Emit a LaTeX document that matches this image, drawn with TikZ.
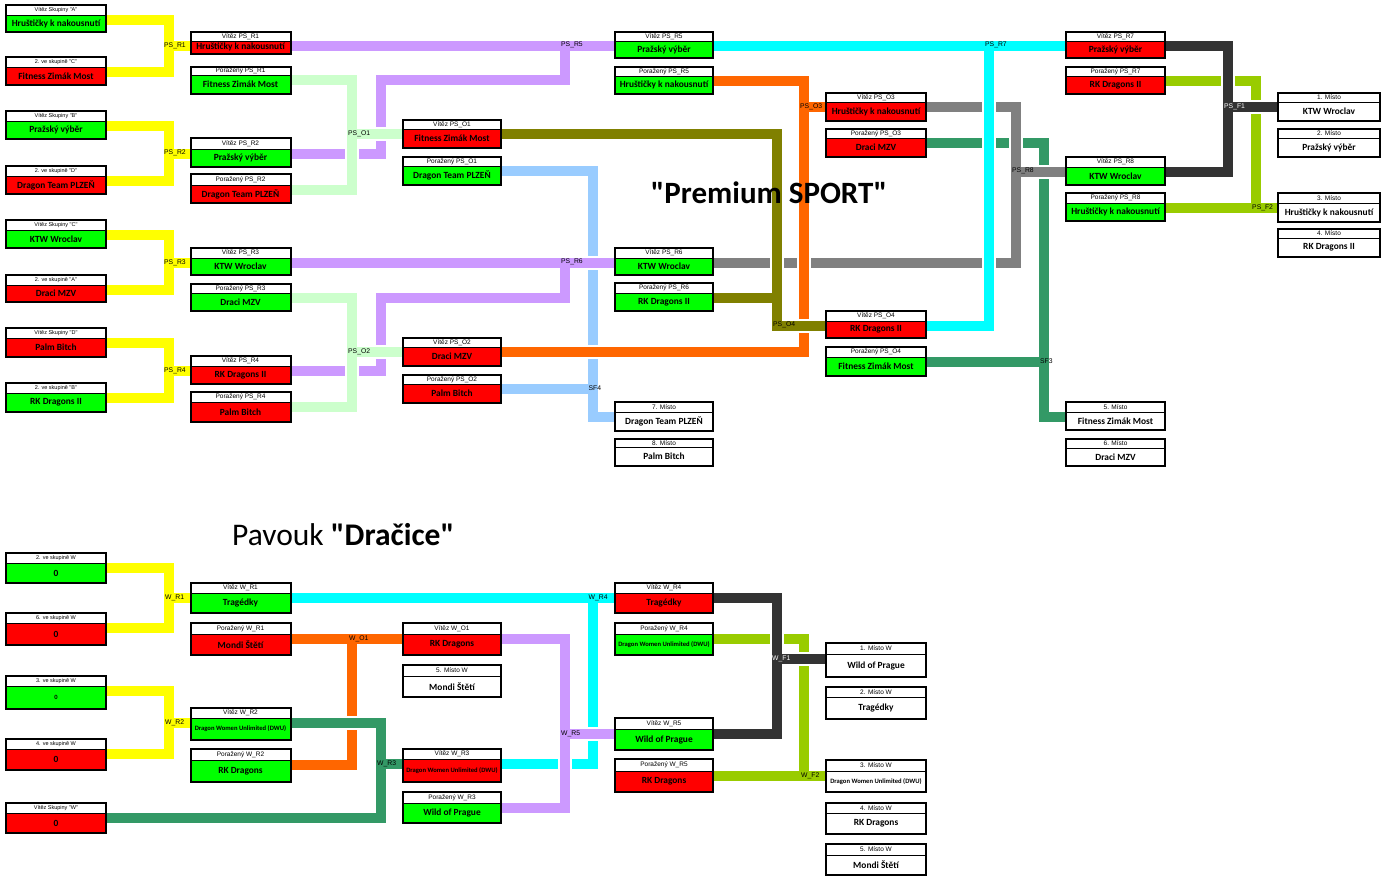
\documentclass[tikz,border=0pt]{standalone}
\usepackage{fontspec}
\setmainfont{Carlito}
\newfontfamily\arialf{Liberation Sans}
\usetikzlibrary{calc}
\pgfdeclarelayer{bg}
\pgfsetlayers{bg,main}
\definecolor{cYel}{HTML}{FFFF00}
\definecolor{cPur}{HTML}{CC99FF}
\definecolor{cLGr}{HTML}{CCFFCC}
\definecolor{cLBl}{HTML}{99CCFF}
\definecolor{cOli}{HTML}{808000}
\definecolor{cOra}{HTML}{FF6600}
\definecolor{cCya}{HTML}{00FFFF}
\definecolor{cGry}{HTML}{808080}
\definecolor{cDGr}{HTML}{339966}
\definecolor{cDGy}{HTML}{333333}
\definecolor{cYGr}{HTML}{99CC00}
\definecolor{cGrn}{HTML}{00FF00}
\definecolor{cRed}{HTML}{FF0000}
\newcommand\qd{\textquotedbl}
\newcommand\hsm[1]{{\fontsize{5.5}{6}\selectfont #1}}
\newcommand\dwu{{\fontsize{6.6}{7}\selectfont Dragon Women Unlimited (DWU)}}
\newcommand\bx[9]{%
  \fill[#7] (#2,#5) rectangle ({#2+#3},#6);
  \fill[white] (#2,#4) rectangle ({#2+#3},#5);
  \draw[line width=0.9pt] (#2,#5) -- ({#2+#3},#5);
  \node[boxframe, minimum width=#3pt, minimum height={(#6-#4)*1pt}, anchor=north west] (#1) at (#2,#4) {};
  \node[hdrtext] (#1-h) at ({#2+#3/2},{(#4+#5)/2}) {#8};
  \node[bodytext] (#1-b) at ({#2+#3/2},{(#5+#6)/2}) {#9};
  \coordinate (#1-l) at (#2,{#5+4.5});
  \coordinate (#1-r) at ({#2+#3},{#5+4.5});
}
\tikzset{
  boxframe/.style={draw=black, line width=2pt, inner sep=0pt, outer sep=0pt},
  hdrtext/.style={font=\arialf\fontsize{6.5}{7}\selectfont, inner sep=0pt},
  bodytext/.style={font=\bfseries\fontsize{9.4}{10}\selectfont, inner sep=0pt},
  net/.style={draw=#1, line width=10pt, line cap=butt, line join=miter,
    preaction={draw=white, line width=14pt}},
  lbl/.style={font=\arialf\fontsize{6.8}{7}\selectfont, inner sep=0pt, anchor=west},
}
\begin{document}
\begin{tikzpicture}[x=1pt,y=-1pt]
\useasboundingbox (0,0) rectangle (1395,881);
% ---------- boxes: top ----------
\bx{A1}{6}{100}{5}{15}{32}{cGrn}{\hsm{Vítěz Skupiny \qd A\qd}}{Hruštičky k nakousnutí}
\bx{A2}{6}{100}{57}{67}{85}{cRed}{\hsm{2. ve skupině \qd C\qd}}{Fitness Zimák Most}
\bx{A3}{6}{100}{111}{121}{139}{cGrn}{\hsm{Vítěz Skupiny \qd B\qd}}{Pražský výběr}
\bx{A4}{6}{100}{166}{176}{194}{cRed}{\hsm{2. ve skupině \qd D\qd}}{Dragon Team PLZEŇ}
\bx{A5}{6}{100}{220}{230}{248}{cGrn}{\hsm{Vítěz Skupiny \qd C\qd}}{KTW Wroclav}
\bx{A6}{6}{100}{275}{285}{302}{cRed}{\hsm{2. ve skupině \qd A\qd}}{Draci MZV}
\bx{A7}{6}{100}{328}{338}{357}{cRed}{\hsm{Vítěz Skupiny \qd D\qd}}{Palm Bitch}
\bx{A8}{6}{100}{383}{393}{412}{cGrn}{\hsm{2. ve skupině \qd B\qd}}{RK Dragons II}
\bx{B1}{190.5}{100}{32}{41}{53.5}{cRed}{Vítěz PS\_R1}{Hruštičky k nakousnutí}
\bx{B2}{190.5}{100}{67}{75}{93.5}{cGrn}{Poražený PS\_R1}{Fitness Zimák Most}
\bx{B3}{190.5}{100}{138}{149}{167}{cGrn}{Vítěz PS\_R2}{Pražský výběr}
\bx{B4}{190.5}{100}{174}{185}{203}{cRed}{Poražený PS\_R2}{Dragon Team PLZEŇ}
\bx{B5}{190.5}{100}{248}{258}{275}{cGrn}{Vítěz PS\_R3}{KTW Wroclav}
\bx{B6}{190.5}{100}{284}{293}{311}{cGrn}{Poražený PS\_R3}{Draci MZV}
\bx{B7}{190.5}{100}{356}{366}{384}{cRed}{Vítěz PS\_R4}{RK Dragons II}
\bx{B8}{190.5}{100}{392}{402}{422}{cRed}{Poražený PS\_R4}{Palm Bitch}
\bx{C1}{403}{98}{120}{129}{148}{cRed}{Vítěz PS\_O1}{Fitness Zimák Most}
\bx{C2}{403}{98}{157}{166}{185}{cGrn}{Poražený PS\_O1}{Dragon Team PLZEŇ}
\bx{C3}{403}{98}{338}{347}{366}{cRed}{Vítěz PS\_O2}{Draci MZV}
\bx{C4}{403}{98}{375}{384}{403}{cRed}{Poražený PS\_O2}{Palm Bitch}
\bx{D1}{615}{98}{32}{41}{58}{cGrn}{Vítěz PS\_R5}{Pražský výběr}
\bx{D2}{615}{98}{67}{76}{94}{cGrn}{Poražený PS\_R5}{Hruštičky k nakousnutí}
\bx{D3}{615}{98}{248}{258}{275}{cGrn}{Vítěz PS\_R6}{KTW Wroclav}
\bx{D4}{615}{98}{283}{293}{311}{cGrn}{Poražený PS\_R6}{RK Dragons II}
\bx{D5}{615}{98}{402}{412}{431}{white}{7. Místo}{Dragon Team PLZEŇ}
\bx{D6}{615}{98}{439}{447}{466}{white}{8. Místo}{Palm Bitch}
\bx{E1}{826}{100}{93}{102}{121}{cRed}{Vítěz PS\_O3}{Hruštičky k nakousnutí}
\bx{E2}{826}{100}{129}{138}{157}{cRed}{Poražený PS\_O3}{Draci MZV}
\bx{E3}{826}{100}{311}{321}{338}{cRed}{Vítěz PS\_O4}{RK Dragons II}
\bx{E4}{826}{100}{347}{357}{376}{cGrn}{Poražený PS\_O4}{Fitness Zimák Most}
\bx{F1}{1066}{99}{32}{41}{58}{cRed}{Vítěz PS\_R7}{Pražský výběr}
\bx{F2}{1066}{99}{67}{76}{94}{cRed}{Poražený PS\_R7}{RK Dragons II}
\bx{F3}{1066}{99}{157}{167}{185}{cGrn}{Vítěz PS\_R8}{KTW Wroclav}
\bx{F4}{1066}{99}{193}{203}{221}{cGrn}{Poražený PS\_R8}{Hruštičky k nakousnutí}
\bx{F5}{1066}{99}{402}{412}{430}{white}{5. Místo}{Fitness Zimák Most}
\bx{F6}{1066}{99}{439}{448}{466}{white}{6. Místo}{Draci MZV}
\bx{G1}{1278}{102}{93}{102}{121}{white}{1. Místo}{KTW Wroclav}
\bx{G2}{1278}{102}{129}{138}{157}{white}{2. Místo}{Pražský výběr}
\bx{G3}{1278}{102}{193}{203}{222}{white}{3. Místo}{Hruštičky k nakousnutí}
\bx{G4}{1278}{102}{229}{238}{257}{white}{4. Místo}{RK Dragons II}
% ---------- boxes: bottom ----------
\bx{H1}{6}{100}{553}{563}{583}{cGrn}{\hsm{2. ve skupině W}}{0}
\bx{H2}{6}{100}{613}{623}{645}{cRed}{\hsm{6. ve skupině W}}{0}
\bx{H3}{6}{100}{676}{686}{709}{cGrn}{\hsm{3. ve skupině W}}{{\fontsize{6.5}{7}\selectfont 0}}
\bx{H4}{6}{100}{739}{749}{770}{cRed}{\hsm{4. ve skupině W}}{0}
\bx{H5}{6}{100}{803}{813}{833}{cRed}{\hsm{Vítěz Skupiny \qd W\qd}}{0}
\bx{I1}{190.5}{100}{583}{593}{613}{cGrn}{Vítěz W\_R1}{Tragédky}
\bx{I2}{190.5}{100}{623}{634}{655}{cRed}{Poražený W\_R1}{Mondi Štětí}
\bx{I3}{190.5}{100}{708}{718}{740}{cGrn}{Vítěz W\_R2}{\dwu}
\bx{I4}{190.5}{100}{749}{760}{782}{cGrn}{Poražený W\_R2}{RK Dragons}
\bx{J1}{403}{98}{623}{634}{655}{cRed}{Vítěz W\_O1}{RK Dragons}
\bx{J2}{403}{98}{665}{676}{697}{white}{5. Místo W}{Mondi Štětí}
\bx{J3}{403}{98}{749}{759}{782}{cRed}{Vítěz W\_R3}{\dwu}
\bx{J4}{403}{98}{792}{803}{823}{cGrn}{Poražený W\_R3}{Wild of Prague}
\bx{K1}{615}{98}{583}{593}{613}{cRed}{Vítěz W\_R4}{Tragédky}
\bx{K2}{615}{98}{623}{634}{655}{cGrn}{Poražený W\_R4}{\dwu}
\bx{K3}{615}{98}{718}{729}{750}{cGrn}{Vítěz W\_R5}{Wild of Prague}
\bx{K4}{615}{98}{759}{771}{792}{cRed}{Poražený W\_R5}{RK Dragons}
\bx{L1}{826}{100}{643}{654}{677}{white}{1. Místo W}{Wild of Prague}
\bx{L2}{826}{100}{687}{697}{719}{white}{2. Místo W}{Tragédky}
\bx{L3}{826}{100}{760}{771}{792}{white}{3. Místo W}{\dwu}
\bx{L4}{826}{100}{803}{813}{834}{white}{4. Místo W}{RK Dragons}
\bx{L5}{826}{100}{844}{855}{875}{white}{5. Místo W}{Mondi Štětí}
% ---------- connectors ----------
\begin{pgfonlayer}{bg}
\fill[white] (0,0) rectangle (1395,881);
\draw[net=cYel] (A1-r) -| (168.5,0 |- B1-l) |- (A2-r) (168.5,0 |- B1-l) -- (B1-l);
\draw[net=cYel] (A3-r) -| (168.5,0 |- B3-l) |- (A4-r) (168.5,0 |- B3-l) -- (B3-l);
\draw[net=cYel] (A5-r) -| (168.5,0 |- B5-l) |- (A6-r) (168.5,0 |- B5-l) -- (B5-l);
\draw[net=cYel] (A7-r) -| (168.5,0 |- B7-l) |- (A8-r) (168.5,0 |- B7-l) -- (B7-l);
\draw[net=cLBl] (C2-r) -| (593,0 |- D5-l) -- (D5-l) (C4-r) -- (593,0 |- C4-r);
\draw[net=cPur] (B1-r) -- (D1-l) (B3-r) -| (381,79.5) -| (565,0 |- D1-l)
  (B5-r) -- (D3-l) (B7-r) -| (381,297.5) -| (565,0 |- D3-l);
\draw[net=cLGr] (B2-r) -| (352,0 |- C1-l) |- (B4-r) (352,0 |- C1-l) -- (C1-l)
  (B6-r) -| (352,0 |- C3-l) |- (B8-r) (352,0 |- C3-l) -- (C3-l);
\draw[net=cDGr] (E2-r) -| (1043.5,0 |- F5-l) -- (F5-l) (E4-r) -- (1043.5,0 |- E4-r);
\draw[net=cGry] (E1-r) -| (1015.5,0 |- D3-r) -- (D3-r) (1015.5,0 |- F3-l) -- (F3-l);
\draw[net=cCya] (D1-r) -- (F1-l) (E3-r) -| (988.5,0 |- D1-r);
\draw[net=cOra] (D2-r) -| (803.5,0 |- C3-r) -- (C3-r) (803.5,0 |- E1-l) -- (E1-l);
\draw[net=cOli] (C1-r) -| (777,0 |- E3-l) -- (E3-l) (D4-r) -- (777,0 |- D4-r);
\draw[net=cYGr] (F2-r) -| (1255.5,0 |- G3-l) -- (G3-l) (F4-r) -- (1255.5,0 |- F4-r);
\draw[net=cDGy] (F1-r) -| (1227.5,0 |- G1-l) |- (F3-r) (1227.5,0 |- G1-l) -- (G1-l);
% bottom
\draw[net=cYel] (H1-r) -| (168.5,0 |- I1-l) |- (H2-r) (168.5,0 |- I1-l) -- (I1-l);
\draw[net=cYel] (H3-r) -| (168.5,0 |- I3-l) |- (H4-r) (168.5,0 |- I3-l) -- (I3-l);
\draw[net=cOra] (I2-r) -- (J1-l) (I4-r) -| (352,0 |- I2-r);
\draw[net=cDGr] (I3-r) -| (381,0 |- J3-l) |- (H5-r) (381,0 |- J3-l) -- (J3-l);
\draw[net=cCya] (I1-r) -- (K1-l) (J3-r) -| (593,0 |- I1-r);
\draw[net=cPur] (J1-r) -| (565,0 |- K3-l) |- (J4-r) (565,0 |- K3-l) -- (K3-l);
\draw[net=cYGr] (K2-r) -| (803.5,0 |- L3-l) -- (L3-l) (K4-r) -- (803.5,0 |- K4-r);
\draw[net=cDGy] (K1-r) -| (776.5,0 |- L1-l) |- (K3-r) (776.5,0 |- L1-l) -- (L1-l);
\end{pgfonlayer}
% ---------- labels ----------
\node[lbl] (lR1) at (164,45.5) {PS\_R1};
\node[lbl] (lR2) at (164,153) {PS\_R2};
\node[lbl] (lR3) at (164,262.5) {PS\_R3};
\node[lbl] (lR4) at (164,370.5) {PS\_R4};
\node[lbl] (lO1) at (348,133.5) {PS\_O1};
\node[lbl] (lO2) at (348,351.5) {PS\_O2};
\node[lbl] (lR5) at (561,45) {PS\_R5};
\node[lbl] (lR6) at (561,262) {PS\_R6};
\node[lbl] (lSF4) at (588.5,388.5) {SF4};
\node[lbl] (lO3) at (800,106.5) {PS\_O3};
\node[lbl] (lO4) at (773,325) {PS\_O4};
\node[lbl] (lR7) at (985,45) {PS\_R7};
\node[lbl] (lR8) at (1012,171) {PS\_R8};
\node[lbl] (lSF3) at (1040,361.5) {SF3};
\node[lbl, text=white] (lF1) at (1224,107) {PS\_F1};
\node[lbl] (lF2) at (1252,207.5) {PS\_F2};
\node[lbl] (lW1) at (165,598) {W\_R1};
\node[lbl] (lW2) at (165,723) {W\_R2};
\node[lbl] (lWO1) at (349,638.5) {W\_O1};
\node[lbl] (lW3) at (377,764) {W\_R3};
\node[lbl] (lW4) at (588.5,598) {W\_R4};
\node[lbl] (lW5) at (561,733.5) {W\_R5};
\node[lbl, text=white] (lWF1) at (772,659) {W\_F1};
\node[lbl] (lWF2) at (801,776) {W\_F2};
% ---------- titles ----------
\node[font=\bfseries\fontsize{31}{31}\selectfont, anchor=base, inner sep=0pt] (t1) at (769,203) {\qd Premium SPORT\qd};
\node[font=\fontsize{31.5}{31.5}\selectfont, anchor=base west, inner sep=0pt] (t2) at (232,545) {Pavouk \textbf{\qd Dračice\qd}};
\end{tikzpicture}
\end{document}
